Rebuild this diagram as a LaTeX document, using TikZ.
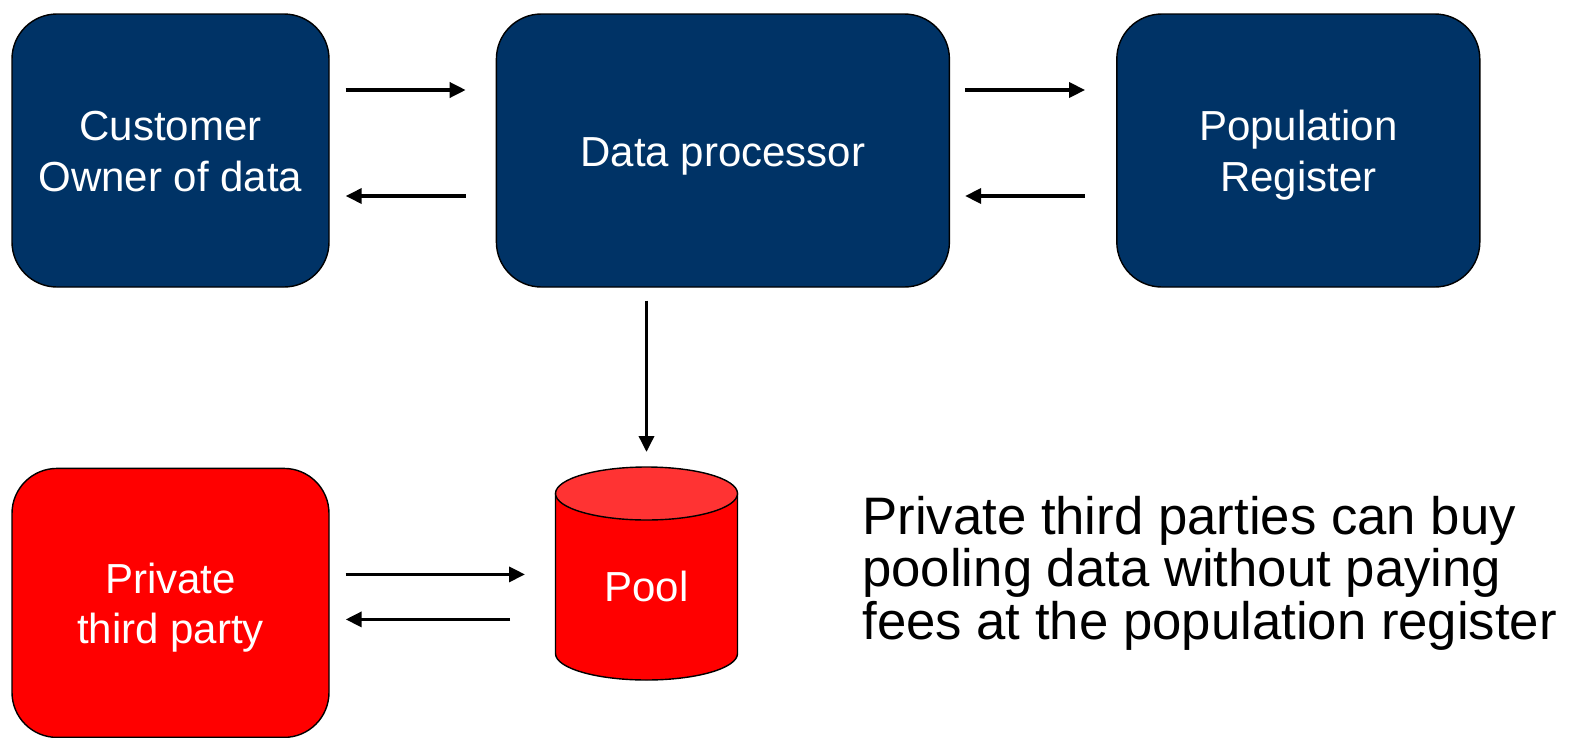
\documentclass[tikz,border=0pt]{standalone}
\usepackage{fontspec}
\setmainfont{Liberation Sans}
\usetikzlibrary{arrows.meta,positioning,backgrounds}
\definecolor{regblue}{RGB}{0,51,102}
\definecolor{poolred}{RGB}{255,0,0}
\definecolor{pooltop}{RGB}{255,51,51}
\newcommand{\boxstrut}{\rule[-0.19cm]{0pt}{1.0cm}}
\tikzstyle{flow} = [line width=2pt,-{Triangle[length=0.32cm,width=0.3cm]}]
\tikzstyle{party} = [rectangle, rounded corners=0.9cm, minimum width=6.34cm, minimum height=5.46cm, text centered, align=center, draw=black, line width=0.8pt, fill=regblue, text=white, font=\fontsize{23.9}{28.5}\selectfont]
\tikzstyle{thirdparty} = [party, fill=poolred, minimum height=5.38cm]

\begin{document}
\begin{tikzpicture}
\useasboundingbox (0,0) rectangle (31.42,-14.74);
% Upper row
\node (cust) [party] at (3.41,-3.01) {\boxstrut Customer\\Owner of data\boxstrut};
\node (proc) [party, right=3.32cm of cust, minimum width=9.06cm] {\boxstrut Data processor\boxstrut};
\node (reg) [party, right=3.32cm of proc, minimum width=7.26cm] {\boxstrut Population\\Register\boxstrut};

% Lower row
\node (ptp) [thirdparty, below=3.6cm of cust] {\boxstrut Private\\third party\boxstrut};
\node (pool) [rectangle, inner sep=0pt, outer sep=0pt, minimum width=3.64cm, minimum height=3.73cm, text=white, font=\fontsize{23.9}{28.5}\selectfont] at (12.93,-11.735) {Pool};
\begin{scope}[on background layer]
\draw[line width=0.8pt, fill=poolred] (pool.north west) -- ([yshift=0.53cm]pool.south west) arc[start angle=180, end angle=360, x radius=1.82cm, y radius=0.53cm] -- (pool.north east) -- cycle;
\draw[line width=0.8pt, fill=pooltop] (pool.north) ellipse [x radius=1.82cm, y radius=0.53cm];
\end{scope}

% Arrows between parties
\draw[flow, shorten <=0.32cm, shorten >=0.6cm] ([yshift=1.21cm]cust.east) -- ([yshift=1.21cm]proc.west);
\draw[flow, shorten <=0.6cm, shorten >=0.32cm] ([yshift=-0.91cm]proc.west) -- ([yshift=-0.91cm]cust.east);
\draw[flow, shorten <=0.3cm, shorten >=0.62cm] ([yshift=1.21cm]proc.east) -- ([yshift=1.21cm]reg.west);
\draw[flow, shorten <=0.62cm, shorten >=0.3cm] ([yshift=-0.91cm]reg.west) -- ([yshift=-0.91cm]proc.east);
\draw[flow, shorten <=0.26cm, shorten >=0.83cm] (proc.south -| pool.north) -- (pool.north);
\draw[flow, shorten <=0.32cm, shorten >=0.61cm] ([yshift=0.57cm]ptp.east) -- ([yshift=0.57cm]ptp.east -| pool.west);
\draw[flow, shorten <=0.91cm, shorten >=0.32cm] ([yshift=-0.33cm]ptp.east -| pool.west) -- ([yshift=-0.33cm]ptp.east);

% Note
\node (note) [anchor=west, align=left, inner sep=0pt, font=\fontsize{30}{29.9}\selectfont] at (17.24,-11.46) {Private third parties can buy\\pooling data without paying\\fees at the population register};
\end{tikzpicture}
\end{document}
